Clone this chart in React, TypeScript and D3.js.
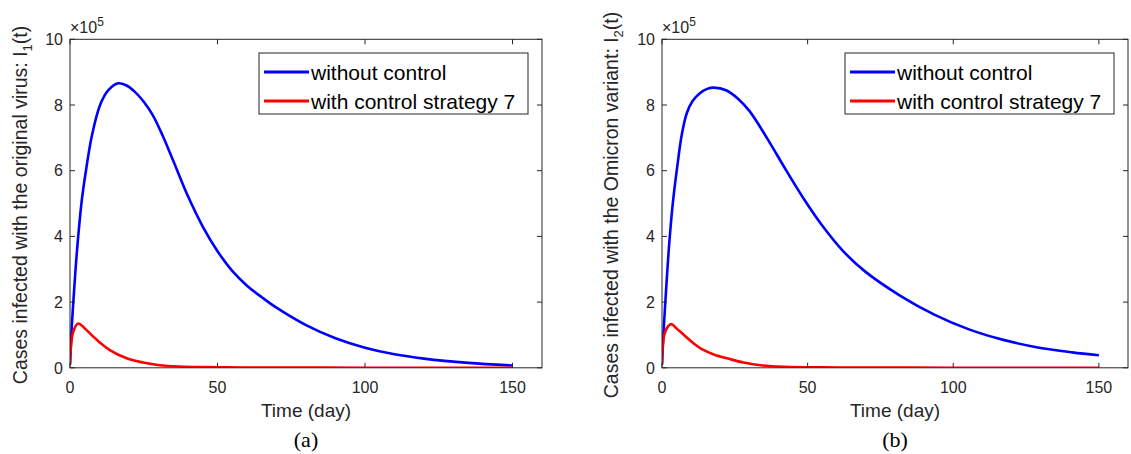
import React from 'react';
import * as d3 from 'd3';

// (values in units of 10^5)
const tA_blue = [0, 0.6, 1.5, 2.4, 4, 5.4, 7.5, 10.2, 13, 16.3, 19, 22, 25, 28, 31.5, 35, 40, 45, 50, 55, 60, 65, 70, 80, 90, 100, 110, 120, 135, 150];
const vA_blue = [0.1, 1.25, 2.5, 3.6, 5.1, 6.0, 7.1, 8.0, 8.45, 8.66, 8.6, 8.4, 8.1, 7.7, 7.05, 6.3, 5.22, 4.3, 3.55, 2.95, 2.5, 2.15, 1.83, 1.3, 0.9, 0.61, 0.41, 0.28, 0.15, 0.07];
const tA_red = [0, 1.1, 2.8, 5, 7.9, 10, 13.5, 19.2, 24.8, 30.4, 37, 45, 60, 80, 100, 150];
const vA_red = [0.12, 1.1, 1.35, 1.2, 0.95, 0.78, 0.54, 0.29, 0.16, 0.08, 0.04, 0.02, 0.01, 0.005, 0.003, 0.001];

const tB_blue = [0, 0.6, 1.5, 2.5, 3.7, 5.2, 6.8, 8.5, 10.5, 13, 15.5, 17.9, 22, 26, 30, 36, 42.7, 49, 55, 62.2, 69.9, 81.7, 93.5, 105.4, 117.2, 129, 140.8, 150];
const vB_blue = [0.1, 1.2, 2.5, 3.8, 5.0, 6.1, 7.1, 7.75, 8.12, 8.36, 8.49, 8.53, 8.45, 8.2, 7.82, 7.0, 6.0, 5.1, 4.33, 3.55, 2.92, 2.2, 1.62, 1.17, 0.85, 0.62, 0.47, 0.38];
const tB_red = [0, 1.1, 3.2, 5, 7.9, 10.9, 14, 18, 22.7, 28, 34.5, 42, 60, 80, 100, 150];
const vB_red = [0.12, 1.1, 1.33, 1.2, 0.97, 0.74, 0.55, 0.4, 0.28, 0.16, 0.07, 0.03, 0.01, 0.005, 0.003, 0.001];

const xTicks = [0, 50, 100, 150];
const yTicks = [0, 2, 4, 6, 8, 10];
const legendLabels = ['without control', 'with control strategy 7'];
const seriesColors = ['#0000ff', '#ff0000'];

const AXIS = '#262626';
const FONT = '"Liberation Sans", Arial, Helvetica, sans-serif';

type PanelProps = {
  left: number;
  right: number;
  tBlue: number[];
  vBlue: number[];
  tRed: number[];
  vRed: number[];
  labelPrefix: string;
  sub: string;
  caption: string;
  labelX: number;
};

function Panel({ left, right, tBlue, vBlue, tRed, vRed, labelPrefix, sub, caption, labelX }: PanelProps) {
  const top = 39.3;
  const bottom = 367.8;
  const x = d3.scaleLinear().domain([0, 160]).range([left, right]);
  const y = d3.scaleLinear().domain([0, 10]).range([bottom, top]);
  const line = d3
    .line<[number, number]>()
    .x(d => x(d[0]))
    .y(d => y(d[1]))
    .curve(d3.curveCatmullRom.alpha(0.5));

  const blue = tBlue.map((t, i) => [t, vBlue[i]] as [number, number]);
  const red = tRed.map((t, i) => [t, vRed[i]] as [number, number]);

  const cx = (left + right) / 2;
  const legW = 269;
  const legX = right - 14 - legW;
  const legY = 53;
  const legH = 61;

  return (
    <g fontFamily={FONT}>
      <rect x={left} y={top} width={right - left} height={bottom - top} fill="#fff" />
      <defs>
        <clipPath id={`clip-${caption}`}>
          <rect x={left} y={top} width={right - left} height={bottom - top} />
        </clipPath>
      </defs>
      <g clipPath={`url(#clip-${caption})`}>
        <path d={line(blue) || ''} fill="none" stroke={seriesColors[0]} strokeWidth={2.6} />
        <path d={line(red) || ''} fill="none" stroke={seriesColors[1]} strokeWidth={2.6} />
      </g>

      {/* box + ticks */}
      <rect x={left} y={top} width={right - left} height={bottom - top} fill="none" stroke={AXIS} strokeWidth={1} />
      {xTicks.map(t => (
        <g key={`xt${t}`}>
          <line x1={x(t)} x2={x(t)} y1={bottom} y2={bottom - 5} stroke={AXIS} />
          <line x1={x(t)} x2={x(t)} y1={top} y2={top + 5} stroke={AXIS} />
          <text x={x(t)} y={393} textAnchor="middle" fontSize={16} fill={AXIS}>
            {t}
          </text>
        </g>
      ))}
      {yTicks.map(v => (
        <g key={`yt${v}`}>
          <line x1={left} x2={left + 5} y1={y(v)} y2={y(v)} stroke={AXIS} />
          <line x1={right} x2={right - 5} y1={y(v)} y2={y(v)} stroke={AXIS} />
          <text x={left - 7} y={y(v)} dy="0.36em" textAnchor="end" fontSize={16} fill={AXIS}>
            {v}
          </text>
        </g>
      ))}

      {/* exponent */}
      <text x={left} y={33} fontSize={16} fill={AXIS}>
        ×10
        <tspan fontSize={12} dy={-7}>
          5
        </tspan>
      </text>

      {/* axis labels */}
      <text x={cx} y={417} textAnchor="middle" fontSize={19} fill={AXIS}>
        Time (day)
      </text>
      <text transform={`translate(${labelX},205) rotate(-90)`} textAnchor="middle" fontSize={19.5} fill={AXIS}>
        {labelPrefix}
        <tspan fontSize={13} dy={5}>
          {sub}
        </tspan>
        <tspan dy={-5}>(t)</tspan>
      </text>
      <text x={cx} y={447} textAnchor="middle" fontSize={22} fontFamily='"Liberation Serif", "Times New Roman", serif' fill="#000">
        ({caption})
      </text>

      {/* legend */}
      <rect x={legX} y={legY} width={legW} height={legH} fill="#fff" stroke={AXIS} strokeWidth={1} />
      {legendLabels.map((lab, i) => {
        const ry = legY + 19 + i * 29;
        return (
          <g key={lab}>
            <line x1={legX + 5} x2={legX + 50} y1={ry} y2={ry} stroke={seriesColors[i]} strokeWidth={3} />
            <text x={legX + 52} y={ry} dy="0.36em" fontSize={21} fill="#000">
              {lab}
            </text>
          </g>
        );
      })}
    </g>
  );
}

export default function App() {
  return (
    <div style={{ position: 'absolute', left: 0, top: 0 }}>
      <svg width={1131} height={454} style={{ display: 'block', background: '#fff' }}>
        <Panel
          left={70}
          right={542}
          tBlue={tA_blue}
          vBlue={vA_blue}
          tRed={tA_red}
          vRed={vA_red}
          labelPrefix="Cases infected with the original virus: I"
          sub="1"
          caption="a"
          labelX={27}
        />
        <Panel
          left={662}
          right={1128}
          tBlue={tB_blue}
          vBlue={vB_blue}
          tRed={tB_red}
          vRed={vB_red}
          labelPrefix="Cases infected with the Omicron variant: I"
          sub="2"
          caption="b"
          labelX={618}
        />
      </svg>
    </div>
  );
}
